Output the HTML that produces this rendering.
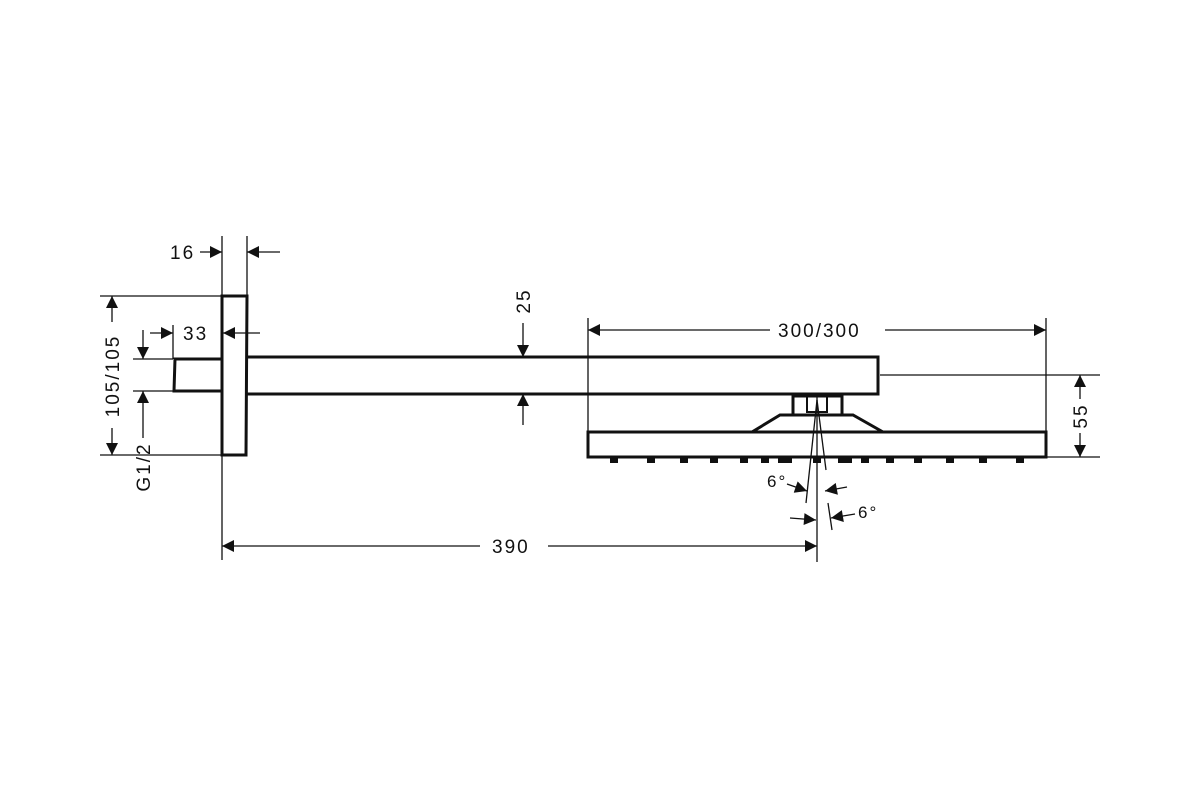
<!DOCTYPE html>
<html><head><style>html,body{margin:0;padding:0;background:#fff}svg{display:block}text{font-family:"Liberation Sans",sans-serif;font-size:19px;fill:#111;letter-spacing:2px}</style></head>
<body>
<svg width="1200" height="800" viewBox="0 0 1200 800" xmlns="http://www.w3.org/2000/svg">
<defs>
<marker id="b" viewBox="0 0 10 10" refX="10" refY="5" markerWidth="14" markerHeight="12" markerUnits="userSpaceOnUse" orient="auto"><path d="M0,0 L10,5 L0,10 z" fill="#111"/></marker>
</defs>
<g stroke="#111" fill="none">
<g stroke-width="1.3">
<line x1="222" y1="236" x2="222" y2="560"/>
<line x1="247" y1="236" x2="247" y2="296"/>
<line x1="100" y1="296" x2="222" y2="296"/>
<line x1="100" y1="455" x2="222" y2="455"/>
<line x1="173" y1="325" x2="173" y2="359"/>
<line x1="133" y1="359" x2="173" y2="359"/>
<line x1="133" y1="391" x2="173" y2="391"/>
<line x1="588" y1="318" x2="588" y2="432"/>
<line x1="1046" y1="318" x2="1046" y2="457"/>
<line x1="880" y1="375" x2="1100" y2="375"/>
<line x1="1046" y1="457" x2="1100" y2="457"/>
<line x1="817" y1="396" x2="817" y2="562"/>
<line x1="817" y1="400" x2="806" y2="503"/>
<line x1="817" y1="400" x2="826" y2="470"/>
<line x1="828" y1="503" x2="832" y2="530"/>
<line x1="523" y1="323" x2="523" y2="357" marker-end="url(#b)"/>
<line x1="523" y1="425" x2="523" y2="394" marker-end="url(#b)"/>
<line x1="200" y1="252" x2="222" y2="252" marker-end="url(#b)"/>
<line x1="280" y1="252" x2="247" y2="252" marker-end="url(#b)"/>
<line x1="150" y1="333" x2="173" y2="333" marker-end="url(#b)"/>
<line x1="260" y1="333" x2="223" y2="333" marker-end="url(#b)"/>
<line x1="143" y1="330" x2="143" y2="359" marker-end="url(#b)"/>
<line x1="143" y1="438" x2="143" y2="391" marker-end="url(#b)"/>
<line x1="112" y1="322" x2="112" y2="296" marker-end="url(#b)"/>
<line x1="112" y1="428" x2="112" y2="455" marker-end="url(#b)"/>
<line x1="1080" y1="399" x2="1080" y2="375" marker-end="url(#b)"/>
<line x1="1080" y1="433" x2="1080" y2="457" marker-end="url(#b)"/>
<line x1="770" y1="330" x2="588" y2="330" marker-end="url(#b)"/>
<line x1="885" y1="330" x2="1046" y2="330" marker-end="url(#b)"/>
<line x1="480" y1="546" x2="222" y2="546" marker-end="url(#b)"/>
<line x1="548" y1="546" x2="817" y2="546" marker-end="url(#b)"/>
<line x1="787" y1="484" x2="807" y2="491" marker-end="url(#b)"/>
<line x1="847" y1="487" x2="825" y2="491" marker-end="url(#b)"/>
<line x1="790" y1="518" x2="816" y2="520" marker-end="url(#b)"/>
<line x1="855" y1="514" x2="831" y2="518" marker-end="url(#b)"/>
</g>
<g stroke-width="3">
<path d="M222,296 L247,296 L246,455 L222,455 Z"/>
<path d="M222,359 L175,359 L174,391 L222,391"/>
<path d="M247,357 L878,357 L878,394 L247,394"/>
<rect x="793" y="396" width="49" height="19"/>
<rect x="807" y="396" width="20" height="16" stroke-width="2"/>
<path d="M752,432 L780,415 L853,415 L883,432"/>
<rect x="588" y="432" width="458" height="25"/>
</g>
<g fill="#111" stroke="none">
<rect x="610" y="457" width="8" height="6"/><rect x="647" y="457" width="8" height="6"/><rect x="680" y="457" width="8" height="6"/><rect x="710" y="457" width="8" height="6"/><rect x="740" y="457" width="8" height="6"/><rect x="761" y="457" width="8" height="6"/><rect x="778" y="457" width="14" height="6"/><rect x="813" y="457" width="8" height="6"/><rect x="838" y="457" width="14" height="6"/><rect x="861" y="457" width="8" height="6"/><rect x="886" y="457" width="8" height="6"/><rect x="914" y="457" width="8" height="6"/><rect x="946" y="457" width="8" height="6"/><rect x="979" y="457" width="8" height="6"/><rect x="1016" y="457" width="8" height="6"/>
</g>
</g>
<text x="170" y="259">16</text>
<text x="183" y="340">33</text>
<text x="778" y="337">300/300</text>
<text x="492" y="553">390</text>
<text transform="translate(530,301) rotate(-90)" text-anchor="middle">25</text>
<text transform="translate(119,376) rotate(-90)" text-anchor="middle">105/105</text>
<text transform="translate(150,467) rotate(-90)" text-anchor="middle">G1/2</text>
<text transform="translate(1087,416) rotate(-90)" text-anchor="middle">55</text>
<text x="767" y="487" style="font-size:17px">6°</text>
<text x="858" y="518" style="font-size:17px">6°</text>
</svg>
</body></html>
